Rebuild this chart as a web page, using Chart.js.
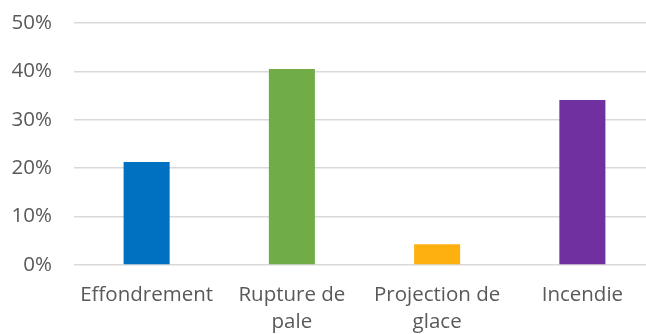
<!DOCTYPE html>
<html>
<head>
<meta charset="utf-8">
<script src="https://cdn.jsdelivr.net/npm/chart.js@4/dist/chart.umd.min.js"></script>
<style>
  html, body { margin: 0; padding: 0; background: #fff; overflow: hidden; }
  #wrap { width: 660px; height: 334px; }
</style>
</head>
<body>
<div id="wrap"><canvas id="accidentChart" width="660" height="334"></canvas></div>
<script>
// Part des accidents par type (%)
const categories = [
    ['Effondrement'],
    ['Rupture de', 'pale'],
    ['Projection de', 'glace'],
    ['Incendie']
];
const shares = [21.3, 40.5, 4.3, 34.1];
const barColors = ['#0070C0', '#70AD47', '#FFB011', '#7030A0'];
const yTicks = [0, 10, 20, 30, 40, 50];

const ctx = document.getElementById('accidentChart').getContext('2d');
const accidentChart = new Chart(ctx, {
    type: 'bar',
    data: {
        labels: categories,
        datasets: [
            {
                data: shares,
                backgroundColor: barColors,
                borderWidth: 0,
                categoryPercentage: 1,
                barPercentage: 0.317
            }
        ]
    },
    options: {
        responsive: false,
        animation: false,
        layout: {
            padding: { top: 23, right: 5, left: 0, bottom: 0 }
        },
        plugins: {
            legend: { display: false },
            tooltip: { enabled: false }
        },
        scales: {
            x: {
                grid: { display: false, drawTicks: false },
                border: { display: false },
                ticks: {
                    color: '#595959',
                    font: { family: 'Open Sans', size: 20.5, lineHeight: 1.3 },
                    padding: 17,
                    maxRotation: 0,
                    autoSkip: false
                },
                afterFit: scale => {
                    scale.height = 69;
                    scale.paddingLeft = 0;
                    scale.paddingRight = 0;
                }
            },
            y: {
                min: 0,
                max: 50,
                afterBuildTicks: scale => {
                    scale.ticks = yTicks.map(v => ({ value: v }));
                },
                grid: { color: '#D9D9D9', lineWidth: 1.5, drawTicks: false },
                border: { display: false },
                ticks: {
                    color: '#595959',
                    font: { family: 'Open Sans', size: 20.5 },
                    padding: 22,
                    callback: v => v + '%'
                },
                afterFit: scale => {
                    scale.width = 74;
                    scale.paddingTop = 0;
                    scale.paddingBottom = 0;
                }
            }
        }
    }
});
</script>
</body>
</html>
